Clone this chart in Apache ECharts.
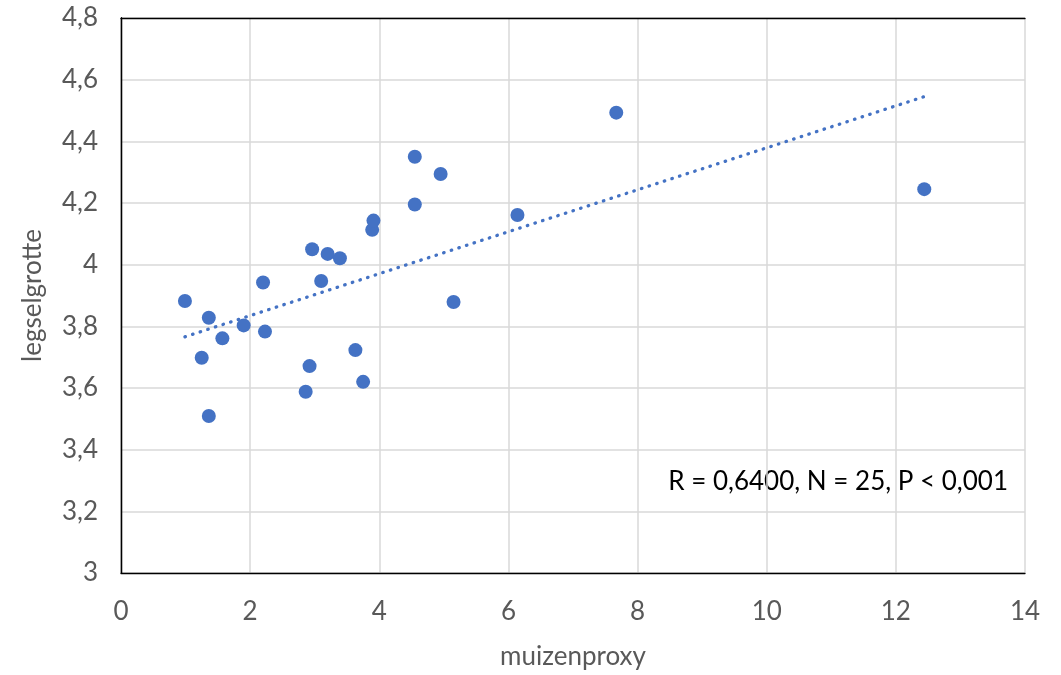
<!DOCTYPE html>
<html>
<head>
<meta charset="utf-8">
<script src="https://cdn.jsdelivr.net/npm/echarts@6/dist/echarts.min.js"></script>
<style>html,body{margin:0;padding:0;background:#fff}#c{width:1061px;height:675px}</style>
</head>
<body>
<div id="c"></div>
<script>
var muizenproxy = [0.99, 1.36, 1.25, 1.36, 1.57, 1.90, 2.20, 2.23, 2.86, 2.92, 2.96, 3.20, 3.10, 3.39, 3.63, 3.75, 3.89, 3.91, 4.55, 4.55, 4.95, 5.15, 6.14, 7.67, 12.44];
var legselgrotte = [3.882, 3.828, 3.698, 3.509, 3.761, 3.803, 3.942, 3.783, 3.588, 3.671, 4.050, 4.035, 3.947, 4.021, 3.723, 3.620, 4.113, 4.143, 4.350, 4.195, 4.294, 3.879, 4.161, 4.493, 4.245];
var trendX = [0.99, 12.44];
var trendY = [3.766, 4.545];
var statsText = 'R = 0,6400, N = 25, P < 0,001';
var xName = 'muizenproxy';
var yName = 'legselgrotte';

var points = muizenproxy.map(function (x, i) { return [x, legselgrotte[i]]; });
var trend = trendX.map(function (x, i) { return [x, trendY[i]]; });
var FONT = 'Lato, "Open Sans", sans-serif';
function fmt(v) { return String(Math.round(v * 10) / 10).replace('.', ','); }
var border = { show: true, lineStyle: { color: '#000', width: 1.3 } };
var grid = { color: '#D9D9D9', width: 1.5 };

var chart = echarts.init(document.getElementById('c'), null, { renderer: 'canvas' });
chart.setOption({
  animation: false,
  grid: { left: 121, top: 18, right: 36, bottom: 102 },
  xAxis: [{
    type: 'value', min: 0, max: 14, interval: 2,
    name: xName, nameLocation: 'middle', nameGap: 71,
    nameTextStyle: { color: '#595959', fontSize: 26, fontFamily: FONT },
    axisLine: border, axisTick: { show: false },
    axisLabel: { color: '#595959', fontSize: 26, fontFamily: FONT, margin: 26, formatter: fmt },
    splitLine: { show: true, lineStyle: grid }
  }, {
    type: 'value', position: 'top', min: 0, max: 14, interval: 2,
    axisLine: border, axisTick: { show: false }, axisLabel: { show: false }, splitLine: { show: false }
  }],
  yAxis: [{
    type: 'value', min: 3, max: 4.8, interval: 0.2,
    name: yName, nameLocation: 'middle', nameGap: 75,
    nameTextStyle: { color: '#595959', fontSize: 26, fontFamily: FONT },
    axisLine: border, axisTick: { show: false },
    axisLabel: { color: '#595959', fontSize: 26, fontFamily: FONT, margin: 23, formatter: fmt },
    splitLine: { show: true, lineStyle: grid }
  }, {
    type: 'value', position: 'right', min: 3, max: 4.8, interval: 0.2,
    axisLine: border, axisTick: { show: false }, axisLabel: { show: false }, splitLine: { show: false }
  }],
  series: [
    {
      type: 'line', data: trend, symbol: 'none', silent: true, z: 1,
      lineStyle: { color: '#4472C4', width: 3.3, type: [0.5, 7.5], cap: 'round' }
    },
    {
      type: 'scatter', data: points, symbolSize: 14, z: 2,
      itemStyle: { color: '#4472C4', opacity: 1 }
    }
  ],
  graphic: [{
    type: 'text', right: 53, top: 469,
    style: { text: statsText, fill: '#000', font: '26px ' + FONT }
  }]
});
</script>
</body>
</html>
